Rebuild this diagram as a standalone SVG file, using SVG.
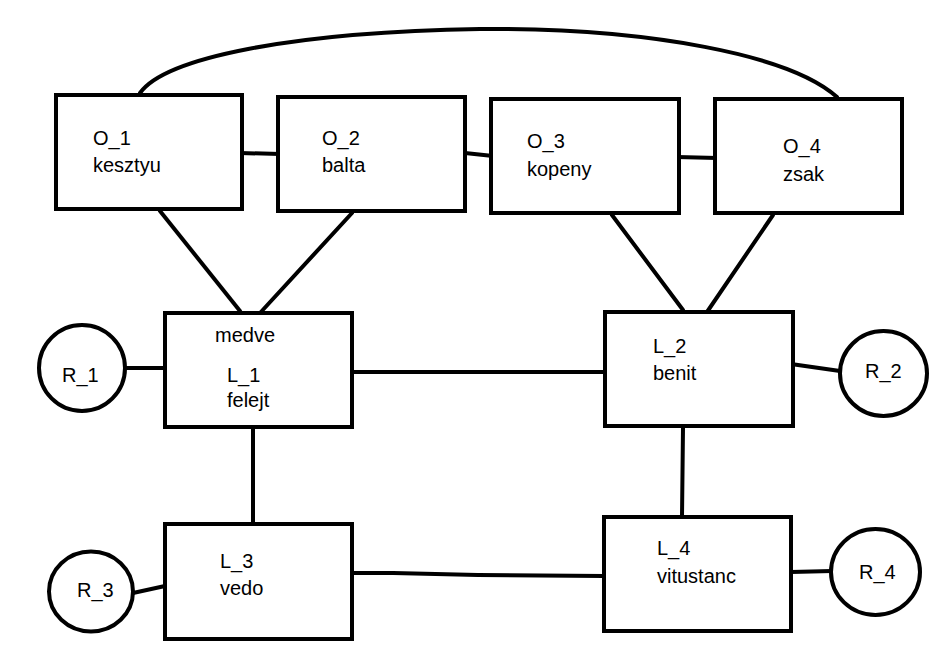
<svg xmlns="http://www.w3.org/2000/svg" width="947" height="660" viewBox="0 0 947 660">
<style>
.box{fill:#fff;stroke:#000;stroke-width:4}
.c{fill:#fff;stroke:#000;stroke-width:4}
.ln{fill:none;stroke:#000;stroke-width:4;stroke-linecap:round}
text{font-family:"Liberation Sans",Arial,sans-serif;font-size:20px;fill:#000}
</style>
<rect width="947" height="660" fill="#fff"/>
<g id="connectors">
<path class="ln" d="M140,93 C165,58 290,32 480,29 C650,28 790,55 837,97"/>
<path class="ln" d="M240,153 L280,154"/>
<path class="ln" d="M465,153 L493,156"/>
<path class="ln" d="M677,157 L717,158"/>
<path class="ln" d="M160,211 L240,311"/>
<path class="ln" d="M352,213 L260,313"/>
<path class="ln" d="M612,215 L683,310"/>
<path class="ln" d="M773,215 L707,312"/>
<path class="ln" d="M125,368 L165,368"/>
<path class="ln" d="M352,372 L605,372"/>
<path class="ln" d="M791,364 L840,371"/>
<path class="ln" d="M253,427 L253,522"/>
<path class="ln" d="M683,428 L682,517"/>
<path class="ln" d="M133,593 L165,586"/>
<path class="ln" d="M350,573 L393,573 L478,575 L604,576"/>
<path class="ln" d="M791,572 L832,571"/>
</g>
<g id="O_1"><rect class="box" x="56" y="95" width="186" height="114"/><text x="93" y="145">O_1</text><text x="93" y="172">kesztyu</text></g>
<g id="O_2"><rect class="box" x="278" y="97" width="187" height="114"/><text x="322" y="145">O_2</text><text x="322" y="172">balta</text></g>
<g id="O_3"><rect class="box" x="491" y="99" width="188" height="114"/><text x="527" y="148">O_3</text><text x="527" y="176">kopeny</text></g>
<g id="O_4"><rect class="box" x="715" y="99" width="187" height="114"/><text x="783" y="153">O_4</text><text x="783" y="181">zsak</text></g>
<g id="L_1"><rect class="box" x="165" y="313" width="187" height="114"/><text x="215" y="342">medve</text><text x="227" y="382">L_1</text><text x="227" y="407">felejt</text></g>
<g id="L_2"><rect class="box" x="605" y="312" width="188" height="114"/><text x="653" y="353">L_2</text><text x="653" y="380">benit</text></g>
<g id="L_3"><rect class="box" x="165" y="524" width="187" height="115"/><text x="220" y="568">L_3</text><text x="220" y="595">vedo</text></g>
<g id="L_4"><rect class="box" x="604" y="517" width="187" height="114"/><text x="657" y="555">L_4</text><text x="657" y="583">vitustanc</text></g>
<g id="R_1"><circle class="c" cx="82" cy="368" r="43"/><text x="62" y="382">R_1</text></g>
<g id="R_2"><ellipse class="c" cx="883.5" cy="373.5" rx="43.5" ry="42.5"/><text x="865" y="378">R_2</text></g>
<g id="R_3"><ellipse class="c" cx="91" cy="591.5" rx="42" ry="40"/><text x="77" y="597">R_3</text></g>
<g id="R_4"><ellipse class="c" cx="875.5" cy="572" rx="44.5" ry="43"/><text x="859" y="579">R_4</text></g>
</svg>
